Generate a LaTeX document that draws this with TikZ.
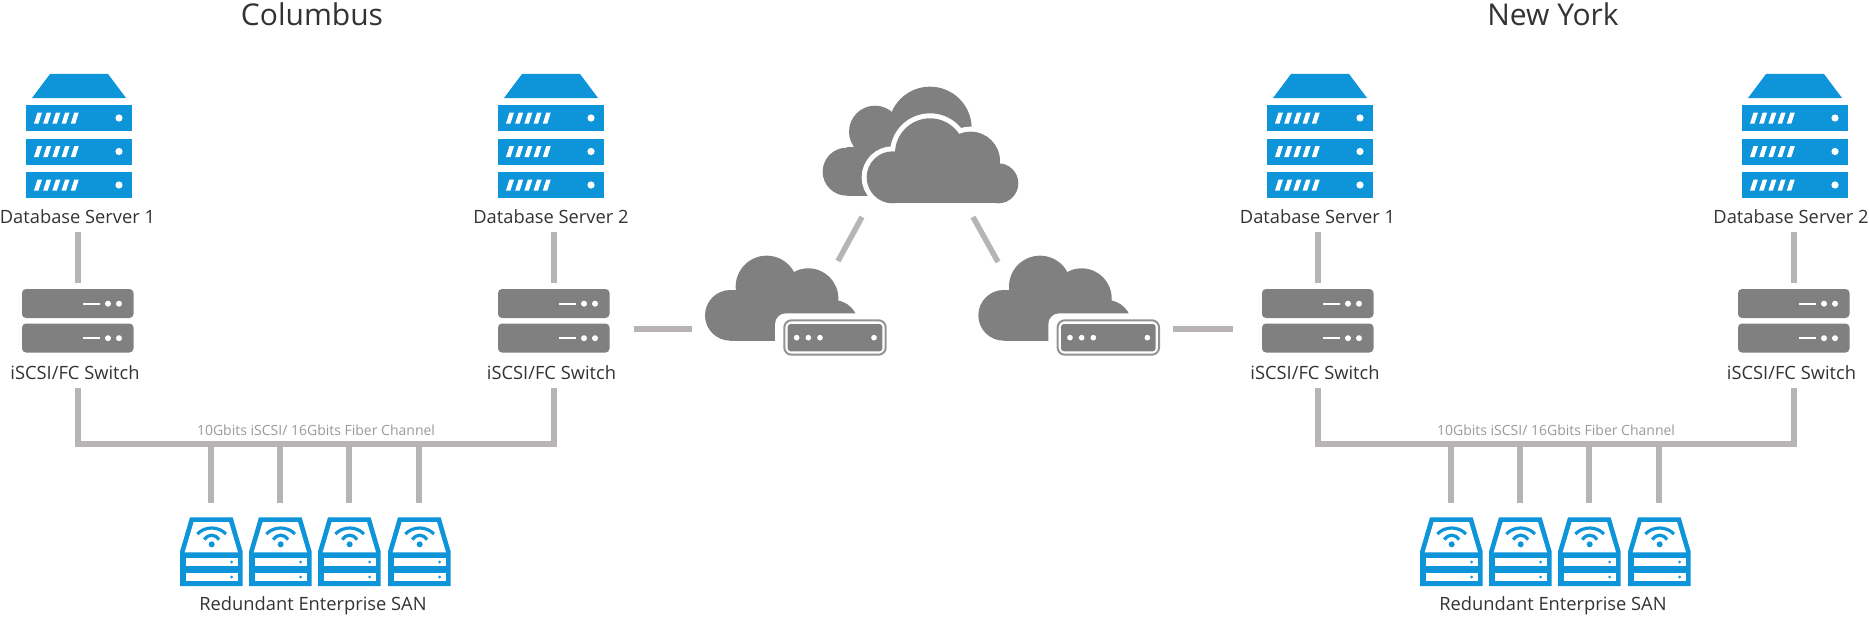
\documentclass[tikz,border=0pt]{standalone}
\usepackage{fontspec}
\setmainfont{Open Sans}
\definecolor{blu}{HTML}{0D94D9}
\definecolor{gry}{HTML}{808080}
\definecolor{lnk}{HTML}{B8B4B6}
\definecolor{txt}{HTML}{333333}
\tikzset{
  link/.style={draw=lnk,line width=6pt,line cap=butt,line join=miter},
  lab/.style={inner sep=0pt,text height=12pt,text depth=4pt,text=txt,font=\fontsize{18.3}{20}\selectfont},
  title/.style={inner sep=0pt,text=txt,font=\fontsize{30}{34}\selectfont},
  speed/.style={inner sep=0pt,text=gry!80,font=\fontsize{14}{16}\selectfont},
  box/.style={inner sep=0pt,outer sep=0pt,minimum width=#1},
  zoomed/.style={x=0.33333pt,y=-0.33333pt}
}
\newcommand{\servericon}[1]{%
  \begin{scope}[xshift=#1pt]
    \fill[blu] (50,74)--(108,74)--(126,98)--(32,98)--cycle;
    \foreach \yy in {105,138.5,172}{
      \fill[blu] (26,\yy) rectangle (132,\yy+26);
      \fill[white] (119,\yy+13) circle[radius=3.6];
      \foreach \k in {0,1,2,3,4}{
        \fill[white] (34+\k*9.2,\yy+18.5)--(38.5+\k*9.2,\yy+18.5)--(42+\k*9.2,\yy+7.5)--(37.5+\k*9.2,\yy+7.5)--cycle;
      }
    }
  \end{scope}}
\newcommand{\switchicon}[1]{%
  \begin{scope}[xshift=#1pt]
    \foreach \yy in {289,323.5}{
      \fill[gry,rounded corners=4pt] (22,\yy) rectangle (133.5,\yy+29);
      \fill[white] (83,\yy+13.7) rectangle (100,\yy+15.7);
      \fill[white] (108,\yy+14.7) circle[radius=3];
      \fill[white] (119,\yy+14.7) circle[radius=3];
    }
  \end{scope}}
\newcommand{\sanicon}[1]{%
  \begin{scope}[zoomed,shift={(#1pt,-500pt)}]
    \fill[blu] (60,52)--(188,52)--(218,155)--(218,258)--(30,258)--(30,155)--cycle;
    \fill[white] (71,66)--(177,66)--(204,157)--(44,157)--cycle;
    \fill[white] (47,175) rectangle (205,197);
    \fill[white] (47,220) rectangle (205,242);
    \fill[blu] (185,186) circle[radius=4.5];
    \fill[blu] (185,231) circle[radius=4.5];
    \draw[blu,line width=3.2pt] (82,102) .. controls (105,78) and (145,78) .. (168,102);
    \draw[blu,line width=3.2pt] (103,119) .. controls (115,101) and (135,101) .. (147,119);
    \fill[blu] (125,133) circle[radius=9];
  \end{scope}}
\newcommand{\wanicon}[1]{%
  \begin{scope}[zoomed,shift={(#1pt,-240pt)}]
    \fill[gry] (331,226) circle[radius=76];
    \fill[gry] (440,140) circle[radius=93];
    \fill[gry] (565,175) circle[radius=90];
    \fill[gry] (640,255) circle[radius=75];
    \fill[gry] (331,150) rectangle (640,302);
    \fill[white,rounded corners=11pt] (465,220) rectangle (825,370);
    \draw[gry!85,fill=white,line width=2pt,rounded corners=7pt] (493,241) rectangle (797,344);
    \fill[gry,rounded corners=3pt] (503,252) rectangle (787,334);
    \foreach \xx in {530,565,600,762}{\fill[white] (\xx,293) circle[radius=8.5];}
  \end{scope}}
\newcommand{\frontpiece}[1]{%
  \path[#1] (248,322) circle[radius=78];
  \path[#1] (360,250) circle[radius=105];
  \path[#1] (482,273) circle[radius=88];
  \path[#1] (565,340) circle[radius=60];
  \path[#1] (248,300) rectangle (565,400);}
% #1 prefix, #2 x offset, #3 rack A offset, #4 rack B offset
\newcommand{\site}[4]{%
  \servericon{#3}
  \servericon{#4}
  \switchicon{#2}
  \switchicon{\the\numexpr#2+476\relax}
  \foreach \uu in {0,69,138,208}{\sanicon{\the\numexpr170+#2+\uu\relax}}
  \begin{scope}[xshift=#2pt]
    \node[box=111pt,minimum height=63pt] (#1swA) at (78,320.5) {};
    \node[box=111pt,minimum height=63pt] (#1swB) at (554,320.5) {};
    \node[lab] (#1srvAl) at (77.5,219) {Database Server 1};
    \node[lab] (#1srvBl) at (551,219) {Database Server 2};
    \node[lab] (#1swAl) at (75,375) {iSCSI/FC Switch};
    \node[lab] (#1swBl) at (551.5,375) {iSCSI/FC Switch};
    \node[speed] (#1spd) at (316,430) {10Gbits iSCSI/ 16Gbits Fiber Channel};
    \node[lab] (#1sanl) at (313,606) {Redundant Enterprise SAN};
    \coordinate (#1bus) at (317,444);
    \foreach \nn/\xx in {a/211,b/280,c/349,d/419}{
      \node[box=63pt,minimum height=69pt] (#1san\nn) at (\xx,551.5) {};
    }
  \end{scope}
  \draw[link,shorten <=5pt,shorten >=6pt] (#1swA |- #1srvAl.south) -- (#1swA.north);
  \draw[link,shorten <=5pt,shorten >=6pt] (#1swB |- #1srvBl.south) -- (#1swB.north);
  \draw[link,shorten <=5pt,shorten >=5pt] (#1swA |- #1swAl.south) |- (#1bus) -| (#1swB |- #1swBl.south);
  \foreach \nn in {a,b,c,d}{
    \draw[link,shorten >=14pt] (#1san\nn |- #1bus) -- (#1san\nn.north);
  }}
\begin{document}
\begin{tikzpicture}[x=1pt,y=-1pt]
\useasboundingbox (0,0) rectangle (1869,618);
\fill[white] (0,0) rectangle (1869,618);
\node[title] (cols) at (312,14) {Columbus};
\node[title] (nyc) at (1553,14) {New York};
\site{c}{0}{0}{472}
\site{n}{1240}{1241}{1716}
\begin{scope}[zoomed,shift={(810pt,-70pt)}]
  \fill[gry] (110,305) circle[radius=72];
  \fill[gry] (195,185) circle[radius=78];
  \fill[gry] (360,175) circle[radius=125];
  \fill[gry] (110,230) rectangle (340,377);
  \frontpiece{draw=white,fill=white,line width=10pt}
  \frontpiece{fill=gry}
\end{scope}
\wanicon{620}
\wanicon{893.33}
\node[box=196pt,minimum height=117pt] (top) at (920,145) {};
\node[box=182pt,minimum height=54pt] (wanL) at (796,329) {};
\node[box=182pt,minimum height=54pt] (wanR) at (1069.5,329) {};
\coordinate (tl) at (862,217);
\coordinate (ll) at (838,261);
\coordinate (tr) at (973,217);
\coordinate (lr) at (998,262);
\draw[link,line width=5.5pt] (tl) -- (ll);
\draw[link,line width=5.5pt] (tr) -- (lr);
\draw[link,line width=5.5pt,shorten <=24pt,shorten >=13pt] (cswB.east |- wanL.west) -- (wanL.west);
\draw[link,line width=5.5pt,shorten <=12.5pt,shorten >=30pt] (wanR.east) -- (nswA.west |- wanR.east);
\end{tikzpicture}
\end{document}
